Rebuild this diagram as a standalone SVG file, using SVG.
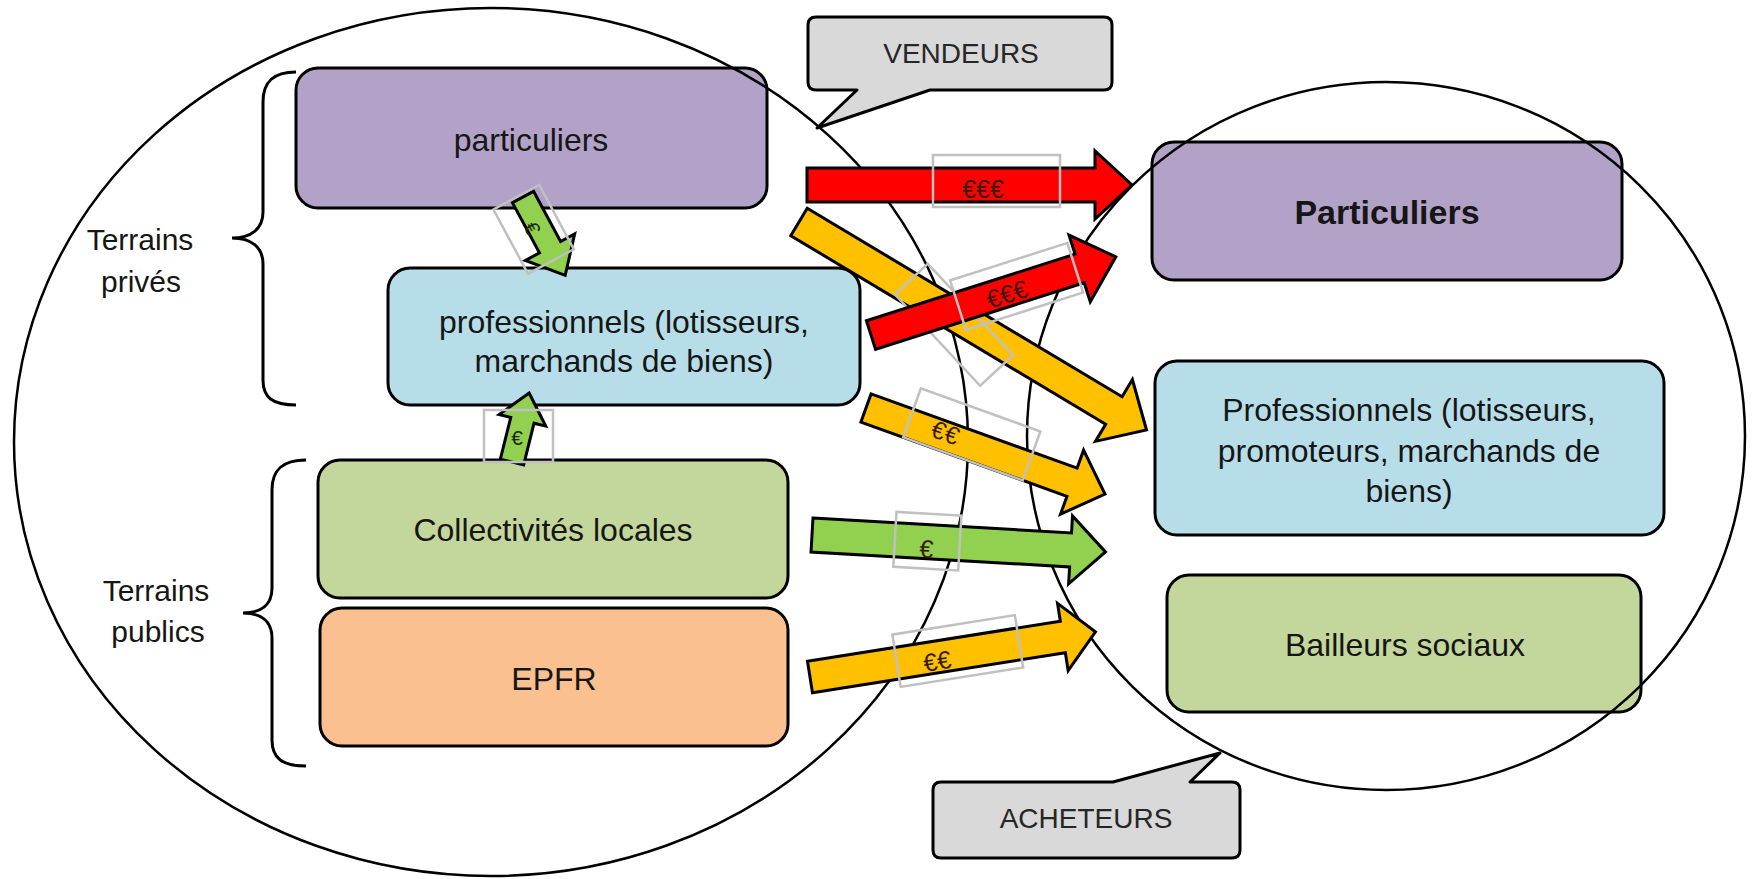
<svg xmlns="http://www.w3.org/2000/svg" width="1761" height="879" viewBox="0 0 1761 879">
<defs>
<style>
.bg{fill:#ffffff}
.box{stroke:#000;stroke-width:3}
.purple{fill:#b3a2c7}
.blue{fill:#b7dee8}
.green{fill:#c3d69b}
.orange{fill:#fac090}
.lbl{font-family:"Liberation Sans",Arial,sans-serif;font-size:32px;fill:#161616;text-anchor:middle}
.bold{font-weight:bold;font-size:34px}
.side{font-family:"Liberation Sans",Arial,sans-serif;font-size:30px;fill:#161616;text-anchor:middle}
.call{fill:#d9d9d9;stroke:#000;stroke-width:3;stroke-linejoin:round}
.calltxt{font-family:"Liberation Sans",Arial,sans-serif;font-size:28px;fill:#262626;text-anchor:middle}
.ell{fill:none;stroke:#000;stroke-width:2.5}
.brace{fill:none;stroke:#000;stroke-width:3}
.arr{stroke:#000;stroke-width:3;stroke-linejoin:miter}
.red{fill:#ff0000}
.yel{fill:#ffc000}
.grn{fill:#92d050}
.tb{fill:none;stroke:#c0c0c0;stroke-width:2.5}
.eur{font-family:"Liberation Sans",Arial,sans-serif;font-size:25px;fill:#3a1a0a;text-anchor:middle}
.eurs{font-family:"Liberation Sans",Arial,sans-serif;font-size:21px;fill:#1a2a0a;text-anchor:middle}
</style>
</defs>
<rect class="bg" x="0" y="0" width="1761" height="879"/>

<g id="node-particuliers-vendeurs">
<rect class="box purple" x="296" y="68" width="471" height="140" rx="22"/>
<text class="lbl" x="531" y="151">particuliers</text>
</g>
<g id="node-professionnels-vendeurs">
<rect class="box blue" x="388" y="268" width="472" height="137" rx="22"/>
<text class="lbl" x="624" y="333">professionnels (lotisseurs,</text>
<text class="lbl" x="624" y="372">marchands de biens)</text>
</g>
<g id="node-collectivites">
<rect class="box green" x="318" y="460" width="470" height="138" rx="22"/>
<text class="lbl" x="553" y="541">Collectivités locales</text>
</g>
<g id="node-epfr">
<rect class="box orange" x="320" y="608" width="468" height="138" rx="22"/>
<text class="lbl" x="554" y="690">EPFR</text>
</g>
<g id="node-particuliers-acheteurs">
<rect class="box purple" x="1152" y="142" width="470" height="138" rx="22"/>
<text class="lbl bold" x="1387" y="224">Particuliers</text>
</g>
<g id="node-professionnels-acheteurs">
<rect class="box blue" x="1155" y="361" width="509" height="174" rx="22"/>
<text class="lbl" x="1409" y="421">Professionnels (lotisseurs,</text>
<text class="lbl" x="1409" y="462">promoteurs, marchands de</text>
<text class="lbl" x="1409" y="502">biens)</text>
</g>
<g id="node-bailleurs">
<rect class="box green" x="1167" y="575" width="474" height="137" rx="22"/>
<text class="lbl" x="1405" y="656">Bailleurs sociaux</text>
</g>

<g id="groups">
<ellipse class="ell" cx="491" cy="442" rx="477" ry="434"/>
<ellipse class="ell" cx="1386" cy="436" rx="359" ry="354"/>
</g>

<g id="brace-prives">
<path class="brace" d="M296,72 C273,72 263,82 263,102 L263,212 C263,229 251,238 232,238 C251,238 263,247 263,264 L263,380 C263,398 273,405 296,405"/>
<text class="side" x="140" y="250">Terrains</text>
<text class="side" x="141" y="292">privés</text>
</g>
<g id="brace-publics">
<path class="brace" d="M306,460 C282,460 272,470 272,490 L272,588 C272,605 261,613 243,613 C261,613 272,621 272,638 L272,740 C272,758 282,766 306,766"/>
<text class="side" x="156" y="601">Terrains</text>
<text class="side" x="158" y="642">publics</text>
</g>

<g id="connectors">
<g transform="translate(807,185)">
<path class="arr red" d="M0,-17 H288 V-34 L325,0 L288,34 V17 H0 Z"/>
<rect class="tb" x="126" y="-30" width="127" height="52"/>
<text class="eur" x="176" y="13">€€€</text>
</g>
<g transform="translate(799,222) rotate(30.9)">
<path class="arr yel" d="M0,-16 H367 V-36 L405,0 L367,36 V16 H0 Z"/>
</g>
<rect class="tb" x="-62" y="-22" width="125" height="45" transform="translate(954,324) rotate(47)"/>
<text class="eur" transform="translate(942,311) rotate(50)" y="8">€€</text>
<g transform="translate(871,335) rotate(-17.7)">
<path class="arr red" d="M0,-15 H219 V-35 L257,0 L219,35 V15 H0 Z"/>
<rect class="tb" x="92" y="-28" width="123" height="52"/>
<text class="eur" x="142" y="11">€€€</text>
</g>
<g transform="translate(866,408) rotate(19.8)">
<path class="arr yel" d="M0,-15 H219 V-34 L254,0 L219,34 V15 H0 Z"/>
<rect class="tb" x="45" y="-37" width="127" height="52"/>
<text class="eur" x="83" y="5">€€</text>
</g>
<g transform="translate(812,535) rotate(3.3)">
<path class="arr grn" d="M0,-17 H259 V-34 L294,0 L259,34 V17 H0 Z"/>
<rect class="tb" x="83" y="-28" width="65" height="55"/>
<text class="eur" x="115" y="16">€</text>
</g>
<g transform="translate(810,677) rotate(-9)">
<path class="arr yel" d="M0,-16 H256 V-34 L289,0 L256,34 V16 H0 Z"/>
<rect class="tb" x="88" y="-29" width="124" height="53"/>
<text class="eur" x="128" y="13">€€</text>
</g>
<g transform="translate(523,197) rotate(61.7)">
<path class="arr grn" d="M0,-12 H57 V-28 L89,0 L57,28 V12 H0 Z"/>
<rect class="tb" x="-3" y="-20" width="73" height="52"/>
<text class="eurs" x="32" y="14">€</text>
</g>
<g transform="translate(512,462) rotate(-76)">
<path class="arr grn" d="M0,-12 H43 V-24 L71,0 L43,24 V12 H0 Z"/>
</g>
<rect class="tb" x="484" y="410" width="69" height="52"/>
<text class="eurs" x="517" y="445">€</text>
</g>

<g id="callout-vendeurs">
<path class="call" d="M816,17 H1104 Q1112,17 1112,25 V82 Q1112,90 1104,90 H930 L817,128 L857,90 H816 Q808,90 808,82 V25 Q808,17 816,17 Z"/>
<text class="calltxt" x="961" y="63">VENDEURS</text>
</g>
<g id="callout-acheteurs">
<path class="call" d="M941,782 H1113 L1220,753 L1190,782 H1232 Q1240,782 1240,790 V850 Q1240,858 1232,858 H941 Q933,858 933,850 V790 Q933,782 941,782 Z"/>
<text class="calltxt" x="1086" y="828">ACHETEURS</text>
</g>
</svg>
